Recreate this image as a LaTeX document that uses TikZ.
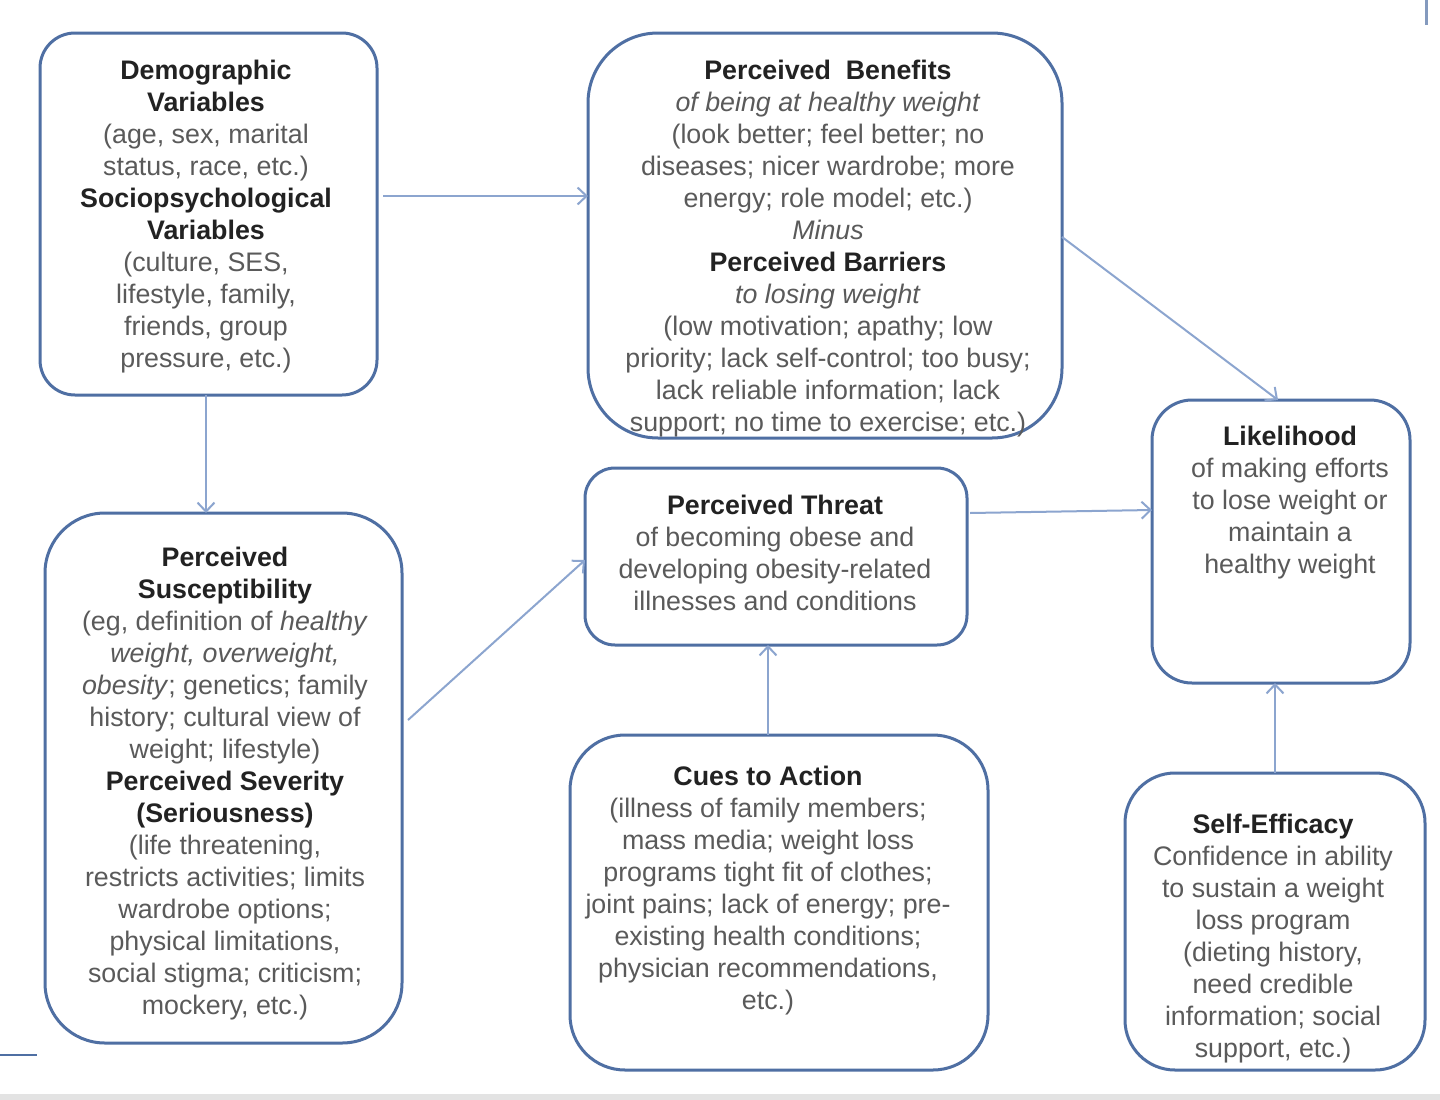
\documentclass[tikz,border=0pt]{standalone}
\usepackage{fontspec}
\setmainfont{Liberation Sans}
\usetikzlibrary{arrows.meta}
\definecolor{boxblue}{HTML}{4F6FA3}
\definecolor{arrblue}{HTML}{8CA5CF}
\definecolor{txtgray}{HTML}{5A5A5A}
\definecolor{txtdark}{HTML}{222222}
\newcommand{\hd}[1]{{\bfseries\color{txtdark}#1}}
\begin{document}
\begin{tikzpicture}[x=1pt,y=-1pt,
  box/.style={draw=boxblue,line width=3pt,inner sep=0pt,outer sep=0pt},
  txt/.style={align=center,text=txtgray,font=\fontsize{26.8}{32}\selectfont,inner sep=0pt},
  arr/.style={draw=arrblue,line width=2pt,-{Straight Barb[length=9pt,width=17pt,line width=2pt]}}]
\useasboundingbox (0,0) rectangle (1440,1100);
\fill[white] (0,0) rectangle (1440,1100);
\fill[gray!22] (0,1094) rectangle (1440,1100);
\draw[boxblue!70,line width=3pt] (1426,0) -- (1426,25);
\draw[boxblue,line width=2pt] (0,1055) -- (37,1055);

% boxes
\node[box,minimum width=337pt,minimum height=362pt,rounded corners=35pt] (demo) at (208.5,214) {};
\node[box,minimum width=474pt,minimum height=405pt,rounded corners=70pt] (ben) at (825,235.5) {};
\node[box,minimum width=357pt,minimum height=530pt,rounded corners=60pt] (susc) at (223.5,778) {};
\node[box,minimum width=382pt,minimum height=177pt,rounded corners=30pt] (threat) at (776,556.5) {};
\node[box,minimum width=258pt,minimum height=283pt,rounded corners=40pt] (like) at (1281,541.5) {};
\node[box,minimum width=418pt,minimum height=335pt,rounded corners=55pt] (cues) at (779,902.5) {};
\node[box,minimum width=300pt,minimum height=297pt,rounded corners=50pt] (self) at (1275,921.5) {};

% texts
\node[txt] (demotxt) at (206,216.5) {\hd{Demographic}\\\hd{Variables}\\(age, sex, marital\\status, race, etc.)\\\hd{Sociopsychological}\\\hd{Variables}\\(culture, SES,\\lifestyle, family,\\friends, group\\pressure, etc.)};
\node[txt] (bentxt) at (828,248.5) {\hd{Perceived\ \ Benefits}\\\textit{of being at healthy weight}\\(look better; feel better; no\\diseases; nicer wardrobe; more\\energy; role model; etc.)\\\textit{Minus}\\\hd{Perceived Barriers}\\\textit{to losing weight}\\(low motivation; apathy; low\\priority; lack self-control; too busy;\\lack reliable information; lack\\support; no time to exercise; etc.)};
\node[txt] (susctxt) at (225,783.5) {\hd{Perceived}\\\hd{Susceptibility}\\(eg, definition of \textit{healthy}\\\textit{weight, overweight,}\\\textit{obesity}; genetics; family\\history; cultural view of\\weight; lifestyle)\\\hd{Perceived Severity}\\\hd{(Seriousness)}\\(life threatening,\\restricts activities; limits\\wardrobe options;\\physical limitations,\\social stigma; criticism;\\mockery, etc.)};
\node[txt] (threattxt) at (775,553) {\hd{Perceived Threat}\\of becoming obese and\\developing obesity-related\\illnesses and conditions};
\node[txt] (liketxt) at (1290,503) {\hd{Likelihood}\\of making efforts\\to lose weight or\\maintain a\\healthy weight};
\node[txt] (cuestxt) at (768,890.5) {\hd{Cues to Action}\\(illness of family members;\\mass media; weight loss\\programs tight fit of clothes;\\joint pains; lack of energy; pre-\\existing health conditions;\\physician recommendations,\\etc.)};
\node[txt] (selftxt) at (1273,938.5) {\hd{Self-Efficacy}\\Confidence in ability\\to sustain a weight\\loss program\\(dieting history,\\need credible\\information; social\\support, etc.)};

% arrows
\draw[arr] ([xshift=6pt,yshift=18pt]demo.east) -- ([yshift=39.5pt]ben.west);
\draw[arr] ([xshift=-2.5pt]demo.south) -- ([xshift=-17.5pt]susc.north);
\draw[arr] ([xshift=6pt,yshift=58pt]susc.east) -- ([yshift=-3.5pt]threat.west);
\draw[arr] ([yshift=-1.5pt]ben.east) -- ([xshift=-3pt]like.north);
\draw[arr] ([xshift=3pt,yshift=43.5pt]threat.east) -- ([yshift=31.5pt]like.west);
\draw[arr] ([xshift=-11pt]cues.north) -- ([xshift=-8pt]threat.south);
\draw[arr] (self.north) -- ([xshift=-6pt]like.south);
\end{tikzpicture}
\end{document}
